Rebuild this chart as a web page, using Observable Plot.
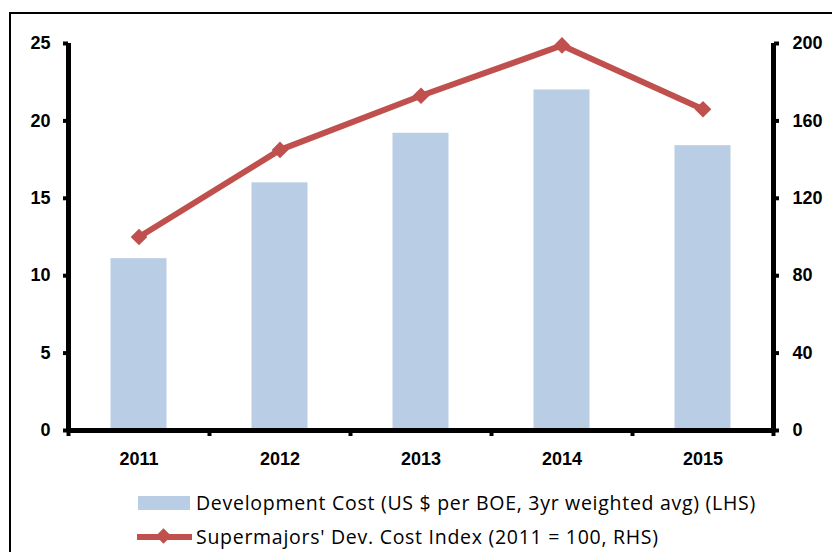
<!DOCTYPE html>
<html>
<head>
<meta charset="utf-8">
<script src="https://cdn.jsdelivr.net/npm/d3@7"></script>
<script src="https://cdn.jsdelivr.net/npm/@observablehq/plot@0.6"></script>
<style>
  html, body { margin: 0; padding: 0; background: #fff; }
  #page { position: relative; width: 832px; height: 552px; overflow: hidden; font-family: "Open Sans", sans-serif; }
  #frame { position: absolute; left: 9px; top: 12px; width: 900px; height: 700px; border: 2px solid #000; box-sizing: border-box; }
  #chart { position: absolute; left: 0; top: 0; }
  .leg { position: absolute; left: 137px; display: flex; align-items: center; font-size: 19.5px; letter-spacing: 0.72px; color: #000; white-space: nowrap; }
  .leg svg { margin-right: 3px; }
</style>
</head>
<body>
<div id="page">
  <div id="frame"></div>
  <div id="chart"></div>
  <div class="leg" id="leg1" style="top:489px"></div>
  <div class="leg" id="leg2" style="top:523px"></div>
</div>
<script>
const years = ["2011", "2012", "2013", "2014", "2015"];
const devCost = [11.1, 16.0, 19.2, 22.0, 18.4];
const costIndex = [100, 145, 173, 199, 166];
const leftTicks = [0, 5, 10, 15, 20, 25];
const rightTicks = [0, 40, 80, 120, 160, 200];
const barName = "Development Cost (US $ per BOE, 3yr weighted avg) (LHS)";
const lineName = "Supermajors' Dev. Cost Index (2011 = 100, RHS)";

const barColor = "#B9CDE5";
const lineColor = "#C0504D";
const ratio = 200 / 25;

const data = years.map((y, i) => ({i, year: y, cost: devCost[i], index: costIndex[i]}));

const chart = Plot.plot({
  width: 832,
  height: 475,
  marginLeft: 68,
  marginRight: 59,
  marginTop: 43,
  marginBottom: 45,
  style: {fontFamily: "'Liberation Sans', Arial, sans-serif", fontSize: "18px", fontWeight: "bold", color: "#000", background: "transparent"},
  x: {domain: [0, years.length], axis: null},
  y: {domain: [0, 25], axis: null},
  marks: [
    Plot.rectY(data, {x1: d => d.i, x2: d => d.i + 1, y: "cost", fill: barColor, insetLeft: 42.5, insetRight: 42.5}),
    Plot.line(data, {x: d => d.i + 0.5, y: d => d.index / ratio, stroke: lineColor, strokeWidth: 6}),
    Plot.dot(data, {x: d => d.i + 0.5, y: d => d.index / ratio, symbol: "diamond2", r: 7.5, fill: lineColor}),
    Plot.axisY({ticks: leftTicks, anchor: "left", label: null, tickSize: 5, tickPadding: 13, strokeWidth: 4, stroke: "#000", fill: "#000", tickFormat: d => String(d)}),
    Plot.axisY({ticks: rightTicks.map(v => v / ratio), anchor: "right", label: null, tickSize: 5, tickPadding: 14, strokeWidth: 4, stroke: "#000", fill: "#000", tickFormat: d => String(Math.round(d * ratio))}),
    Plot.axisX({ticks: d3.range(years.length + 1), anchor: "bottom", label: null, tickSize: 6, strokeWidth: 4, stroke: "#000", tickFormat: () => ""}),
    Plot.axisX({ticks: years.map((y, i) => i + 0.5), anchor: "bottom", label: null, tickSize: 0, tickPadding: 22, fill: "#000", tickFormat: d => years[Math.floor(d)]}),
    Plot.ruleY([0], {stroke: "#000", strokeWidth: 5}),
    Plot.ruleX([0, years.length], {stroke: "#000", strokeWidth: 5})
  ]
});
document.getElementById("chart").appendChild(chart);

document.getElementById("leg1").innerHTML =
  `<svg width="56" height="26"><rect x="1" y="6" width="52" height="14" fill="${barColor}"/></svg><span>${barName}</span>`;
document.getElementById("leg2").innerHTML =
  `<svg width="56" height="26"><line x1="0" y1="13" x2="55" y2="13" stroke="${lineColor}" stroke-width="6"/><rect x="21" y="6.5" width="11" height="11" transform="rotate(45 26.5 12)" fill="${lineColor}"/></svg><span>${lineName}</span>`;
</script>
</body>
</html>
